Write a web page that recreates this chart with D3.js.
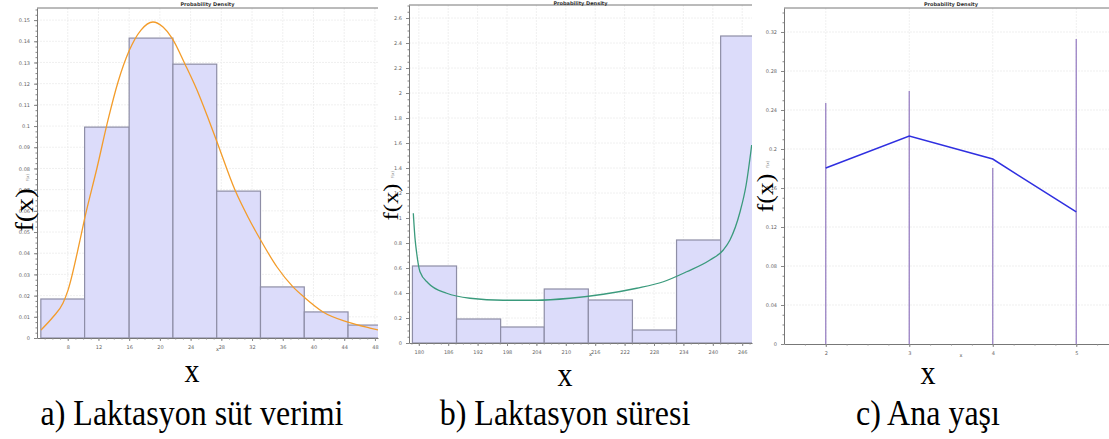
<!DOCTYPE html>
<html lang="tr">
<head>
<meta charset="UTF-8">
<title>Probability Density</title>
<script src="https://cdn.jsdelivr.net/npm/d3@7"></script>
<style>
  body { margin: 0; background: #fff; }
  svg { display: block; }
  .serif { font-family: 'Liberation Serif', 'DejaVu Serif', serif; }
</style>
</head>
<body>
<script>
// a) Laktasyon süt verimi
const aBins = [4.5, 10.2, 16.0, 21.7, 27.4, 33.1, 38.8, 44.5, 50.2];
const aDensity = [0.0184, 0.0995, 0.1415, 0.1292, 0.0693, 0.0241, 0.0123, 0.0061];
const aCurveX = [4.52, 6.08, 7.39, 8.04, 9.60, 10.25, 11.81, 13.24, 14.55, 15.98, 17.54, 19.10, 20.41, 21.58,
                 23.27, 24.83, 26.27, 27.44, 29.78, 31.47, 33.04, 35.25, 37.33, 38.90, 41.24, 44.49, 47.36, 48.4];
const aCurveY = [0.0038, 0.0099, 0.0165, 0.0226, 0.0462, 0.0571, 0.0802, 0.1028, 0.1208, 0.1354, 0.1453, 0.1491, 0.1467, 0.1415,
                 0.1292, 0.1170, 0.1038, 0.0925, 0.0698, 0.0571, 0.0467, 0.0335, 0.0241, 0.0189, 0.0123, 0.0075, 0.0047, 0.0038];
const aXTicks = [8, 12, 16, 20, 24, 28, 32, 36, 40, 44, 48];
const aYTicks = [0, 0.01, 0.02, 0.03, 0.04, 0.05, 0.06, 0.07, 0.08, 0.09, 0.1, 0.11, 0.12, 0.13, 0.14, 0.15];

// b) Laktasyon süresi
const bBins = [178.7, 187.7, 196.7, 205.6, 214.6, 223.6, 232.6, 241.6, 250.6];
const bDensity = [0.616, 0.192, 0.128, 0.432, 0.344, 0.104, 0.824, 2.456];
const bCurveX = [178.88, 179.22, 179.57, 180.24, 181.94, 185.69, 190.45, 197.24, 204.06, 210.86,
                 217.65, 224.47, 229.90, 234.67, 239.43, 242.14, 243.5, 245.55, 246.8, 247.94];
const bCurveY = [1.038, 0.84, 0.718, 0.570, 0.478, 0.398, 0.358, 0.342, 0.342, 0.358,
                 0.390, 0.438, 0.490, 0.570, 0.664, 0.744, 0.824, 1.048, 1.264, 1.584];
const bXTicks = [180, 186, 192, 198, 204, 210, 216, 222, 228, 234, 240, 246];
const bYTicks = [0, 0.2, 0.4, 0.6, 0.8, 1, 1.2, 1.4, 1.6, 1.8, 2, 2.2, 2.4, 2.6];

// c) Ana yaşı
const cAge = [2, 3, 4, 5];
const cProb = [0.2472, 0.2595, 0.1805, 0.3128];
const cLine = [0.1805, 0.2133, 0.1897, 0.1354];
const cYTicks = [0, 0.04, 0.08, 0.12, 0.16, 0.2, 0.24, 0.28, 0.32];

const width = 1109, height = 439;
const svg = d3.select('body').append('svg').attr('width', width).attr('height', height);
const defs = svg.append('defs');

function panel(p) {
    const x = d3.scaleLinear().domain(p.xDomain).range([p.left, p.right]);
    const y = d3.scaleLinear().domain(p.yDomain).range([p.bottom, p.top]);
    defs.append('clipPath').attr('id', 'clip-' + p.key)
        .append('rect').attr('x', p.left).attr('y', p.top - 1)
        .attr('width', p.right - p.left).attr('height', p.bottom - p.top + 1);
    const g = svg.append('g');

    // grid
    const grid = g.append('g').attr('stroke', '#ececec').attr('stroke-width', 0.8).attr('stroke-dasharray', '2,1');
    grid.selectAll('.vx').data(p.xTicks).join('line').attr('class', 'vx')
        .attr('x1', d => x(d)).attr('x2', d => x(d)).attr('y1', p.top).attr('y2', p.bottom);
    grid.selectAll('.hy').data(p.yTicks.filter(d => d > 0)).join('line').attr('class', 'hy')
        .attr('x1', p.left).attr('x2', p.right).attr('y1', d => y(d)).attr('y2', d => y(d));

    const plot = g.append('g').attr('clip-path', 'url(#clip-' + p.key + ')');

    // axes
    const fmt = d => String(d);
    const xAxis = g.append('g').attr('transform', `translate(0,${p.bottom})`)
        .call(d3.axisBottom(x).tickValues(p.xTicks).tickSize(3).tickSizeOuter(0).tickFormat(fmt));
    const xStep = p.xTicks[1] - p.xTicks[0];
    const xMinor = d3.range(p.xTicks[0] - xStep, p.xDomain[1], xStep / 4).filter(d => d > p.xDomain[0]);
    g.append('g').attr('transform', `translate(0,${p.bottom})`)
        .call(d3.axisBottom(x).tickValues(xMinor).tickSize(1.5).tickSizeOuter(0).tickFormat(''))
        .call(s => s.select('.domain').remove());
    const yAxis = g.append('g').attr('transform', `translate(${p.left},0)`)
        .call(d3.axisLeft(y).tickValues(p.yTicks).tickSize(3).tickSizeOuter(0).tickFormat(fmt));
    const yStep = p.yTicks[1] - p.yTicks[0];
    const yMinor = d3.range(0, p.yDomain[1], yStep / 4);
    g.append('g').attr('transform', `translate(${p.left},0)`)
        .call(d3.axisLeft(y).tickValues(yMinor).tickSize(1.5).tickSizeOuter(0).tickFormat(''))
        .call(s => s.select('.domain').remove());
    g.selectAll('.domain').attr('stroke', '#777');
    g.selectAll('.tick line').attr('stroke', '#888');
    g.selectAll('.tick text').attr('font-size', 5).attr('fill', '#666').attr('font-family', 'DejaVu Sans');
    xAxis.selectAll('.tick text').attr('dy', '0.9em');
    yAxis.selectAll('.tick text').attr('dx', '-0.2em');

    // frame top
    g.append('line').attr('x1', p.left).attr('x2', p.right).attr('y1', p.top).attr('y2', p.top)
        .attr('stroke', '#777').attr('stroke-width', 1);

    // title and small axis label
    g.append('text').attr('x', (p.left + p.right) / 2).attr('y', Math.max(p.top - 2, 4.5))
        .attr('text-anchor', 'middle').attr('font-size', 5).attr('font-weight', 'bold')
        .attr('font-family', 'DejaVu Sans').attr('fill', '#333').text('Probability Density');
    g.append('text').attr('x', (p.left + p.right) / 2 + 10).attr('y', p.bottom + 13)
        .attr('text-anchor', 'middle').attr('font-size', 5).attr('font-family', 'DejaVu Sans')
        .attr('fill', '#555').text('x');

    // big labels
    g.append('text').attr('class', 'serif')
        .attr('transform', `translate(${p.fx},${p.fy}) rotate(-90) scale(1.12,1)`)
        .attr('text-anchor', 'middle').attr('font-size', p.fs)
        .attr('fill', '#000').text('f(x)');
    g.append('text').attr('transform', `translate(${p.fx - 4},${p.fy - p.fs * 1.25}) rotate(-90)`)
        .attr('text-anchor', 'middle').attr('font-family', 'DejaVu Sans').attr('font-size', 4)
        .attr('fill', '#777').text('f(x)');
    g.append('text').attr('class', 'serif')
        .attr('transform', `translate(${p.cx},${p.xy}) scale(1,1.12)`)
        .attr('text-anchor', 'middle').attr('font-size', 30)
        .attr('fill', '#000').text('x');
    g.append('text').attr('class', 'serif')
        .attr('transform', `translate(${p.cx},425) scale(1,1.12)`)
        .attr('text-anchor', 'middle').attr('font-size', 32)
        .attr('fill', '#000').text(p.caption);

    return { x, y, plot };
}

function bars(pp, bins, dens) {
    pp.plot.selectAll('rect.bar').data(dens).join('rect').attr('class', 'bar')
        .attr('x', (d, i) => pp.x(bins[i]))
        .attr('width', (d, i) => pp.x(bins[i + 1]) - pp.x(bins[i]))
        .attr('y', d => pp.y(d))
        .attr('height', d => pp.y(0) - pp.y(d))
        .attr('fill', '#dcdcfa').attr('stroke', '#8e8ea6').attr('stroke-width', 1.2);
}

// panel a
const pa = panel({ key: 'a', left: 37, right: 378, top: 8, bottom: 338, xDomain: [4, 48.4], yDomain: [0, 0.1557],
    xTicks: aXTicks, yTicks: aYTicks, fx: 33, fy: 210, fs: 26, cx: 192, xy: 382, caption: 'a) Laktasyon süt verimi' });
bars(pa, aBins, aDensity);
pa.plot.append('path').datum(aCurveX.map((d, i) => [d, aCurveY[i]]))
    .attr('fill', 'none').attr('stroke', '#f39c2a').attr('stroke-width', 1.3)
    .attr('d', d3.line().x(d => pa.x(d[0])).y(d => pa.y(d[1])).curve(d3.curveMonotoneX));

// panel b
const pb = panel({ key: 'b', left: 409, right: 752, top: 5, bottom: 343, xDomain: [178, 248], yDomain: [0, 2.704],
    xTicks: bXTicks, yTicks: bYTicks, fx: 398, fy: 202, fs: 22, cx: 565, xy: 386, caption: 'b) Laktasyon süresi' });
bars(pb, bBins, bDensity);
pb.plot.append('path').datum(bCurveX.map((d, i) => [d, bCurveY[i]]))
    .attr('fill', 'none').attr('stroke', '#3a9a7c').attr('stroke-width', 1.3)
    .attr('d', d3.line().x(d => pb.x(d[0])).y(d => pb.y(d[1])).curve(d3.curveMonotoneX));

// panel c
const pc = panel({ key: 'c', left: 784, right: 1118, top: 8, bottom: 344, xDomain: [1.5, 5.5], yDomain: [0, 0.3446],
    xTicks: cAge, yTicks: cYTicks, fx: 773, fy: 193, fs: 23, cx: 928, xy: 384, caption: 'c) Ana yaşı' });
pc.plot.selectAll('line.stem').data(cProb).join('line').attr('class', 'stem')
    .attr('x1', (d, i) => pc.x(cAge[i])).attr('x2', (d, i) => pc.x(cAge[i]))
    .attr('y1', pc.y(0)).attr('y2', d => pc.y(d))
    .attr('stroke', '#9a82c4').attr('stroke-width', 1.3);
pc.plot.append('path').datum(cLine.map((d, i) => [cAge[i], d]))
    .attr('fill', 'none').attr('stroke', '#2f2fe0').attr('stroke-width', 1.5)
    .attr('d', d3.line().x(d => pc.x(d[0])).y(d => pc.y(d[1])));
</script>
</body>
</html>
